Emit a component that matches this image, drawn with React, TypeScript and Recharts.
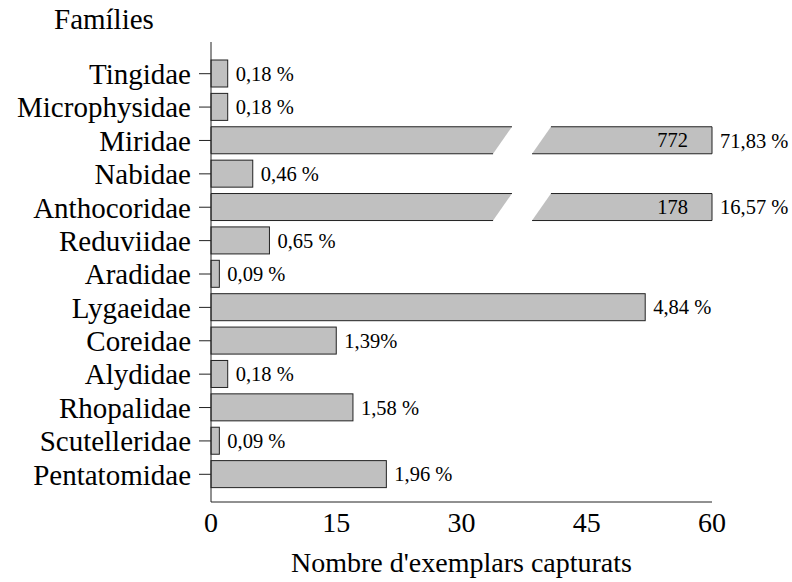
import React from 'react';
import { BarChart, Bar, XAxis, YAxis, LabelList } from 'recharts';

const families = [
  'Tingidae',
  'Microphysidae',
  'Miridae',
  'Nabidae',
  'Anthocoridae',
  'Reduviidae',
  'Aradidae',
  'Lygaeidae',
  'Coreidae',
  'Alydidae',
  'Rhopalidae',
  'Scutelleridae',
  'Pentatomidae',
];

const counts = [2, 2, 772, 5, 178, 7, 1, 52, 15, 2, 17, 1, 21];

const percentLabels = [
  '0,18 %',
  '0,18 %',
  '71,83 %',
  '0,46 %',
  '16,57 %',
  '0,65 %',
  '0,09 %',
  '4,84 %',
  '1,39%',
  '0,18 %',
  '1,58 %',
  '0,09 %',
  '1,96 %',
];

const xTicks = [0, 15, 30, 45, 60];
const AXIS_MAX = 60;

const data = families.map((family, i) => ({
  family,
  plotted: Math.min(counts[i], AXIS_MAX),
  count: counts[i],
  pct: percentLabels[i],
  broken: counts[i] > AXIS_MAX,
}));

const FONT = 'Liberation Serif';
const FILL = '#c0c0c0';
const STROKE = '#222';

const BarShape = (props: any) => {
  const { x, y, width, height, payload } = props;
  if (!payload || !payload.broken) {
    return <rect x={x} y={y} width={width} height={height} fill={FILL} stroke={STROKE} strokeWidth={1} />;
  }
  const slant = height * 0.7;
  const gapBottom = x + width * 0.563;
  const gap = 39;
  const r = x + width;
  const b = y + height;
  return (
    <g>
      <polygon
        points={`${x},${y} ${gapBottom + slant},${y} ${gapBottom},${b} ${x},${b}`}
        fill={FILL}
        stroke="none"
      />
      <polyline
        points={`${gapBottom + slant},${y} ${x},${y} ${x},${b} ${gapBottom},${b}`}
        fill="none"
        stroke={STROKE}
        strokeWidth={1}
      />
      <polygon
        points={`${gapBottom + gap + slant},${y} ${r},${y} ${r},${b} ${gapBottom + gap},${b}`}
        fill={FILL}
        stroke="none"
      />
      <polyline
        points={`${gapBottom + gap + slant},${y} ${r},${y} ${r},${b} ${gapBottom + gap},${b}`}
        fill="none"
        stroke={STROKE}
        strokeWidth={1}
      />
      <text
        x={r - 24}
        y={y + height / 2}
        textAnchor="end"
        dominantBaseline="central"
        fontSize={20.5}
        fontFamily={FONT}
        fill="#000"
      >
        {payload.count}
      </text>
    </g>
  );
};

const FamLabel = (props: any) => {
  const vb = props.viewBox || { x: 0, y: 42 };
  return (
    <text x={vb.x + 54} y={vb.y - 13} fontSize={29} fontFamily={FONT} fill="#000">
      Famílies
    </text>
  );
};

export default function App() {
  return (
    <div style={{ position: 'absolute', left: 0, top: 0, background: '#fff', fontFamily: FONT }}>
      <BarChart
        width={792}
        height={582}
        data={data}
        layout="vertical"
        margin={{ top: 42, right: 80, bottom: 0, left: 0 }}
        barSize={27}
        style={{ fontFamily: FONT }}
      >
        <XAxis
          type="number"
          domain={[0, AXIS_MAX]}
          ticks={xTicks}
          tickLine={false}
          tickSize={6}
          tickMargin={4}
          height={80}
          axisLine={{ stroke: STROKE }}
          tick={{ fontSize: 28, fill: '#000', fontFamily: FONT }}
          label={{
            value: "Nombre d'exemplars capturats",
            position: 'insideBottom',
            offset: 10,
            fontSize: 28,
            fill: '#000',
            fontFamily: FONT,
          }}
        />
        <YAxis
          type="category"
          dataKey="family"
          width={211}
          interval={0}
          tickSize={12}
          tickMargin={8}
          axisLine={{ stroke: STROKE }}
          tickLine={{ stroke: STROKE }}
          tick={{ fontSize: 29, fill: '#000', fontFamily: FONT }}
          padding={{ top: 15, bottom: 11 }}
          label={<FamLabel />}
        />
        <Bar dataKey="plotted" shape={<BarShape />} isAnimationActive={false}>
          <LabelList
            dataKey="pct"
            position="right"
            offset={8}
            fontSize={20.5}
            fill="#000"
            fontFamily={FONT}
          />
        </Bar>
      </BarChart>
    </div>
  );
}
